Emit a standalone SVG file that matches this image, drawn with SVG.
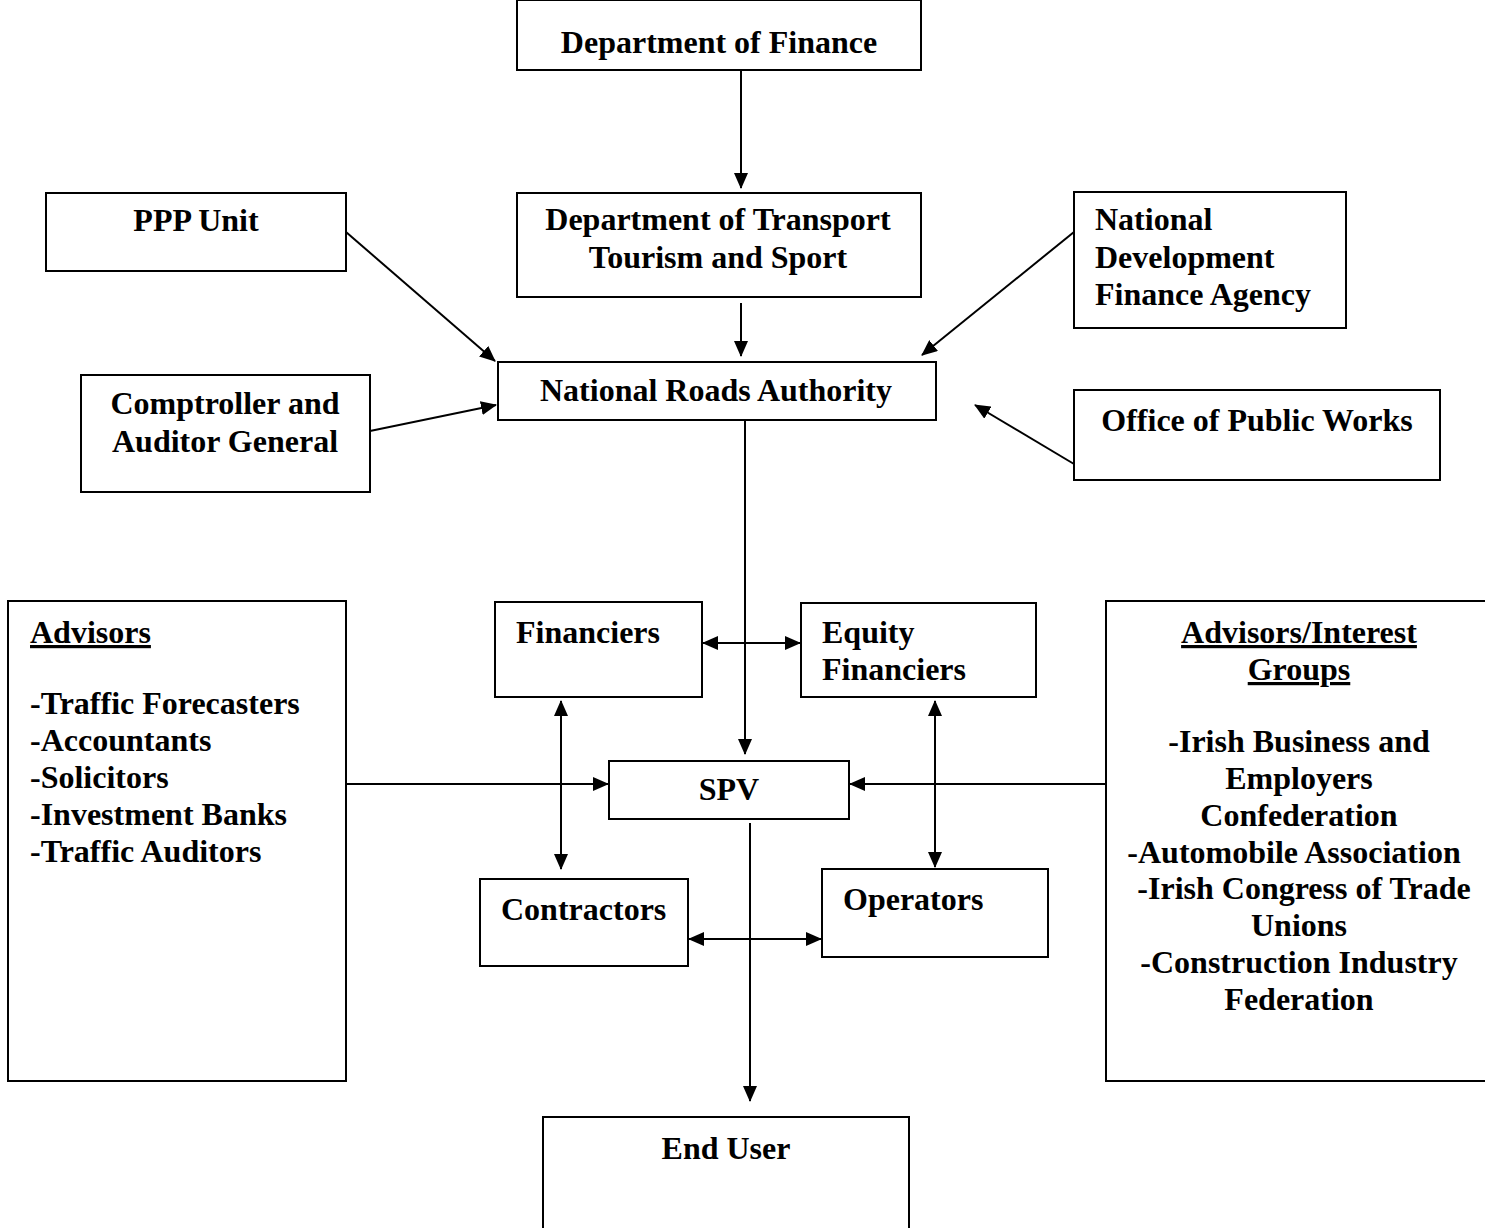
<svg xmlns="http://www.w3.org/2000/svg" width="1485" height="1228" viewBox="0 0 1485 1228">
<style>
rect{fill:#fff;stroke:#000;stroke-width:2}
text{font-family:"Liberation Serif","Times New Roman",serif;font-weight:bold;font-size:32px;fill:#000}
.c{text-anchor:middle}
.u{text-decoration:underline}
#connectors line{stroke:#000;stroke-width:2;fill:none}
</style>
<defs>
<marker id="ah" markerUnits="userSpaceOnUse" markerWidth="16" markerHeight="14" refX="15" refY="7" orient="auto-start-reverse" viewBox="0 0 16 14">
<path d="M0,0 L16,7 L0,14 Z" fill="#000"/>
</marker>
</defs>
<g id="connectors">
<line x1="741" y1="70" x2="741" y2="188" marker-end="url(#ah)"/>
<line x1="741" y1="303" x2="741" y2="356" marker-end="url(#ah)"/>
<line x1="346" y1="232" x2="495" y2="361" marker-end="url(#ah)"/>
<line x1="1074" y1="232" x2="922" y2="355" marker-end="url(#ah)"/>
<line x1="370" y1="431" x2="496" y2="405" marker-end="url(#ah)"/>
<line x1="1074" y1="464" x2="975" y2="405" marker-end="url(#ah)"/>
<line x1="745" y1="420" x2="745" y2="754" marker-end="url(#ah)"/>
<line x1="703" y1="643" x2="800" y2="643" marker-start="url(#ah)" marker-end="url(#ah)"/>
<line x1="561" y1="701" x2="561" y2="869" marker-start="url(#ah)" marker-end="url(#ah)"/>
<line x1="935" y1="701" x2="935" y2="867" marker-start="url(#ah)" marker-end="url(#ah)"/>
<line x1="346" y1="784" x2="608" y2="784" marker-end="url(#ah)"/>
<line x1="1106" y1="784" x2="850" y2="784" marker-end="url(#ah)"/>
<line x1="689" y1="939" x2="821" y2="939" marker-start="url(#ah)" marker-end="url(#ah)"/>
<line x1="750" y1="823" x2="750" y2="1101" marker-end="url(#ah)"/>
</g>
<g id="dof"><rect x="517" y="0" width="404" height="70"/><text class="c" x="719" y="53">Department of Finance</text></g>
<g id="dotts"><rect x="517" y="193" width="404" height="104"/><text class="c" x="718" y="230">Department of Transport</text><text class="c" x="718" y="268">Tourism and Sport</text></g>
<g id="nra"><rect x="498" y="362" width="438" height="58"/><text class="c" x="716" y="401">National Roads Authority</text></g>
<g id="ppp"><rect x="46" y="193" width="300" height="78"/><text class="c" x="196" y="231">PPP Unit</text></g>
<g id="ndfa"><rect x="1074" y="192" width="272" height="136"/><text x="1095" y="230">National</text><text x="1095" y="268">Development</text><text x="1095" y="305">Finance Agency</text></g>
<g id="cag"><rect x="81" y="375" width="289" height="117"/><text class="c" x="225" y="414">Comptroller and</text><text class="c" x="225" y="452">Auditor General</text></g>
<g id="opw"><rect x="1074" y="390" width="366" height="90"/><text class="c" x="1257" y="431">Office of Public Works</text></g>
<g id="advisors"><rect x="8" y="601" width="338" height="480"/>
<text class="u" x="30" y="643">Advisors</text>
<text x="30" y="714">-Traffic Forecasters</text>
<text x="30" y="751">-Accountants</text>
<text x="30" y="788">-Solicitors</text>
<text x="30" y="825">-Investment Banks</text>
<text x="30" y="862">-Traffic Auditors</text></g>
<g id="financiers"><rect x="495" y="602" width="207" height="95"/><text x="516" y="643">Financiers</text></g>
<g id="equity"><rect x="801" y="603" width="235" height="94"/><text x="822" y="643">Equity</text><text x="822" y="680">Financiers</text></g>
<g id="spv"><rect x="609" y="761" width="240" height="58"/><text class="c" x="729" y="800">SPV</text></g>
<g id="contractors"><rect x="480" y="879" width="208" height="87"/><text x="501" y="920">Contractors</text></g>
<g id="operators"><rect x="822" y="869" width="226" height="88"/><text x="843" y="910">Operators</text></g>
<g id="interest"><rect x="1106" y="601" width="390" height="480"/>
<text class="c u" x="1299" y="643">Advisors/Interest</text>
<text class="c u" x="1299" y="680">Groups</text>
<text class="c" x="1299" y="752">-Irish Business and</text>
<text class="c" x="1299" y="789">Employers</text>
<text class="c" x="1299" y="826">Confederation</text>
<text class="c" x="1294" y="863">-Automobile Association</text>
<text class="c" x="1304" y="899">-Irish Congress of Trade</text>
<text class="c" x="1299" y="936">Unions</text>
<text class="c" x="1299" y="973">-Construction Industry</text>
<text class="c" x="1299" y="1010">Federation</text></g>
<g id="enduser"><rect x="543" y="1117" width="366" height="130"/><text class="c" x="726" y="1159">End User</text></g>
</svg>
